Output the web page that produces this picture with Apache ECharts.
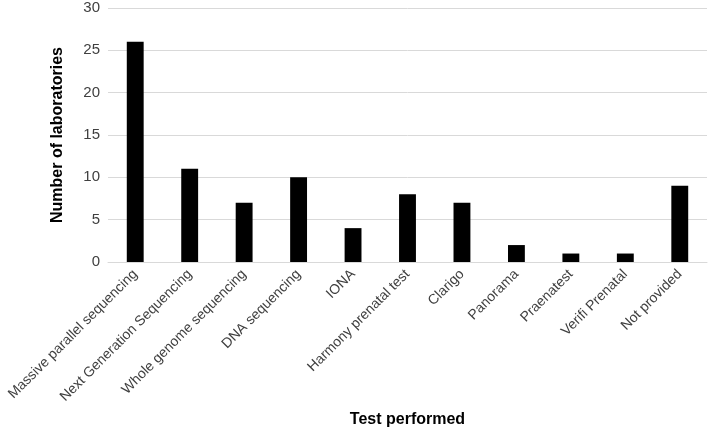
<!DOCTYPE html>
<html><head><meta charset="utf-8">
<script src="https://cdn.jsdelivr.net/npm/echarts@6/dist/echarts.min.js"></script>
<style>html,body{margin:0;padding:0;background:#fff}#c{width:709px;height:430px}</style>
</head><body><div id="c"></div>
<script>
const categories = ["Massive parallel sequencing","Next Generation Sequencing","Whole genome sequencing","DNA sequencing","IONA","Harmony prenatal test","Clarigo","Panorama","Praenatest","Verifi Prenatal","Not provided"];
const values = [26, 11, 7, 10, 4, 8, 7, 2, 1, 1, 9];
const chart = echarts.init(document.getElementById('c'), null, {renderer:'canvas'});
chart.setOption({
  animation:false,
  grid:{left:108,right:2,top:8,bottom:168,containLabel:false,outerBoundsMode:'none'},
  xAxis:{type:'category',data:categories,
    axisLine:{lineStyle:{color:'#d9d9d9',width:1}},axisTick:{show:false},
    axisLabel:{rotate:45,interval:0,fontFamily:'Liberation Sans, Arial',fontSize:14,color:'#404040',margin:10},
    name:'Test performed',nameLocation:'middle',nameGap:150,
    nameTextStyle:{fontFamily:'Liberation Sans, Arial',fontSize:16,fontWeight:'bold',color:'#000'}},
  yAxis:{type:'value',min:0,max:30,interval:5,
    axisLine:{show:false},axisTick:{show:false},
    splitLine:{lineStyle:{color:'#d9d9d9',width:1}},
    axisLabel:{fontFamily:'Liberation Sans, Arial',fontSize:15,color:'#404040',margin:8},
    name:'Number of laboratories',nameLocation:'middle',nameGap:42,
    nameTextStyle:{fontFamily:'Liberation Sans, Arial',fontSize:16,fontWeight:'bold',color:'#000'}},
  series:[{type:'bar',data:values,barWidth:'31%',itemStyle:{color:'#000'}}]
});
</script></body></html>
